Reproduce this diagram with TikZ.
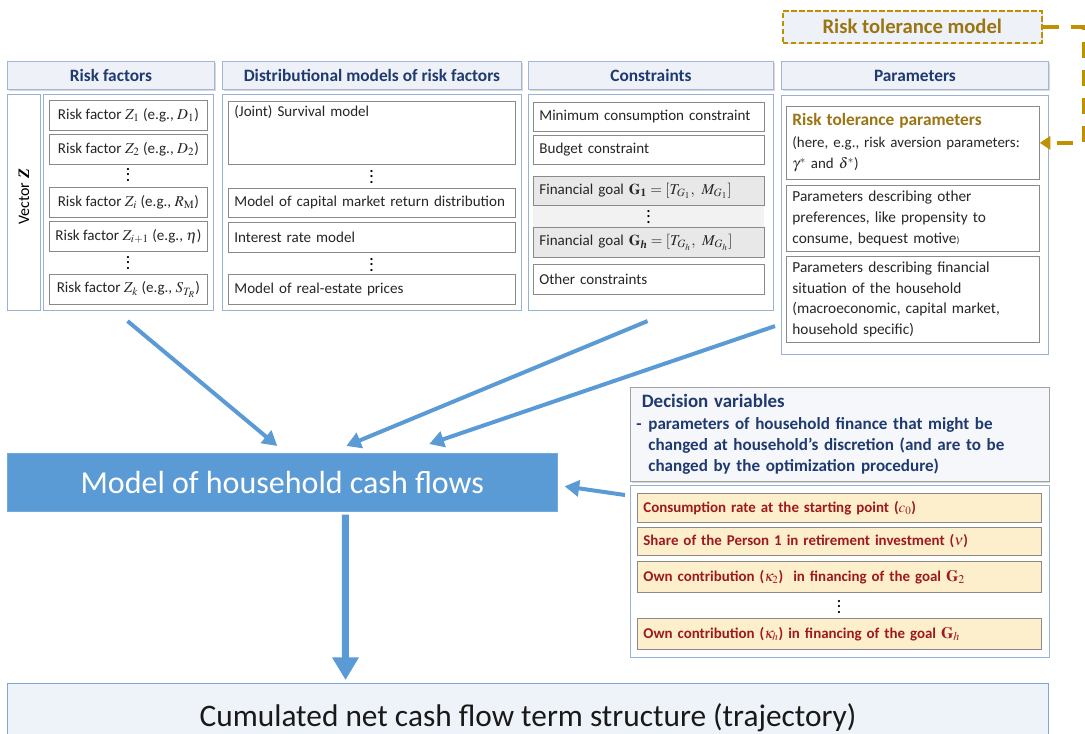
\documentclass[tikz,border=0pt]{standalone}
\usepackage{amsmath,amssymb}
\usepackage{mathptmx}
\usepackage[no-math]{fontspec}
\setmainfont{Carlito}
\newfontfamily\tnr{Liberation Serif}
\newcommand{\bi}[1]{{\tnr\bfseries\itshape #1}}
\newcommand{\vd}{\vbox{\baselineskip4pt\lineskiplimit0pt\hbox{.}\hbox{.}\hbox{.}}}
\usetikzlibrary{arrows.meta,shadows}

\definecolor{hdrfill}{HTML}{EEF2F8}
\definecolor{hdrline}{HTML}{A3B6D3}
\definecolor{grpline}{HTML}{95B3D7}
\definecolor{subline}{HTML}{8A8A8A}
\definecolor{navy}{HTML}{1F3A6E}
\definecolor{goldline}{HTML}{BF9000}
\definecolor{goldtext}{HTML}{9A7512}
\definecolor{dvfill}{HTML}{FEEFCC}
\definecolor{dvtext}{HTML}{9E1A1A}
\definecolor{cfblue}{HTML}{5B9BD5}
\definecolor{trajfill}{HTML}{EEF3FA}
\definecolor{trajline}{HTML}{7FA6D6}

\tikzset{
  hdr/.style={anchor=north west, draw=hdrline, fill=hdrfill, line width=0.7pt, text=navy,
    font=\bfseries\fontsize{13}{15}\selectfont, minimum height=21pt,
    drop shadow={shadow xshift=1pt, shadow yshift=-1.2pt, opacity=0.3}},
  grp/.style={anchor=north west, draw=grpline, fill=white, line width=0.8pt},
  sub/.style={anchor=north west, draw=subline, fill=white, line width=0.6pt, align=left,
    inner xsep=4.5pt, font=\fontsize{11.3}{15.5}\selectfont, text=black!85, minimum height=22.5pt},
  rfbox/.style={sub, align=center, inner xsep=1pt, minimum width=118.5pt, font=\fontsize{11.3}{13}\selectfont},
  dmbox/.style={sub, text width=206.25pt},
  cobox/.style={sub, text width=164.25pt},
  pabox/.style={sub, text width=180.75pt, font=\fontsize{11.5}{15.5}\selectfont},
  dvbox/.style={sub, fill=dvfill, text=dvtext, font=\bfseries\fontsize{11.2}{13}\selectfont, text width=294pt},
  vdot/.style={font=\bfseries\fontsize{11}{12}\selectfont, inner sep=0pt},
  flow/.style={draw=cfblue, line width=3pt, -{Triangle[length=11pt,width=12pt]}},
  bigflow/.style={draw=cfblue, line width=5.25pt, -{Triangle[length=17pt,width=19pt]}},
  goldflow/.style={draw=goldline, line width=3pt, dash pattern=on 12pt off 9pt, -{Triangle[length=8pt,width=10pt]}},
}

\begin{document}
\begin{tikzpicture}[x=0.75pt,y=0.75pt,yscale=-1,xscale=1]
\useasboundingbox (0,0) rectangle (1085,733);

% Risk tolerance model
\node[hdr, draw=goldline, line width=1.2pt, dash pattern=on 4pt off 2pt, text=goldtext,
  font=\bfseries\fontsize{15.5}{18}\selectfont, minimum width=194.25pt, minimum height=24pt] (rtm) at (782,10) {Risk tolerance model};

% Headers
\node[hdr, minimum width=155.25pt] (hRisk) at (7,61) {Risk factors};
\node[hdr, minimum width=224.25pt] (hDist) at (222,61) {Distributional models of risk factors};
\node[hdr, minimum width=183.75pt] (hCons) at (528,61) {Constraints};
\node[hdr, minimum width=200.25pt] (hPar) at (781,61) {Parameters};

% Risk factors
\node[grp, minimum width=24.75pt, minimum height=162pt] (bVec) at (7,94) {};
\node[grp, minimum width=127.5pt, minimum height=162pt] (bRisk) at (43,94) {};
\node[rotate=90, font=\fontsize{12}{14}\selectfont] (vecZ) at (24,197) {Vector \bi{Z}};
\node[rfbox] (rf1) at (49,100) {Risk factor $Z_1$ (e.g., $D_1$)};
\node[rfbox] (rf2) at (49,134) {Risk factor $Z_2$ (e.g., $D_2$)};
\node[vdot] (dR1) at (128,175) {\vd};
\node[rfbox] (rfi) at (49,187) {Risk factor $Z_i$ (e.g., $R_{\mathrm{M}}$)};
\node[rfbox] (rfj) at (49,221) {Risk factor $Z_{i+1}$ (e.g., $\eta$)};
\node[vdot] (dR2) at (128,263) {\vd};
\node[rfbox] (rfk) at (49,274) {Risk factor $Z_k$ (e.g., $S_{T_R}$)};

% Distributional models
\node[grp, minimum width=224.25pt, minimum height=162pt] (bDist) at (222,94) {};
\node[dmbox, text depth=32pt] (surv) at (228,101) {(Joint) Survival model};
\node[vdot] (dD1) at (371.5,177) {\vd};
\node[dmbox, minimum height=21.75pt] (capm) at (228,188) {Model of capital market return distribution};
\node[dmbox] (irm) at (228,222) {Interest rate model};
\node[vdot] (dD2) at (371.5,265) {\vd};
\node[dmbox] (reprice) at (228,274) {Model of real-estate prices};

% Constraints
\node[grp, minimum width=183.75pt, minimum height=162pt] (bCons) at (528,94) {};
\node[cobox, minimum height=21.75pt] (mincons) at (533,102) {Minimum consumption constraint};
\node[cobox, minimum height=21.75pt] (budget) at (533,135) {Budget constraint};
\node[anchor=north west, fill=black!5, minimum width=173.25pt, minimum height=60.75pt] (goalband) at (533,176) {};
\node[cobox, fill=black!9, minimum height=21.75pt] (goal1) at (533,176) {Financial goal $\mathbf{G}_{\mathbf{1}} = [T_{G_1},\ M_{G_1}]$};
\node[vdot] (dC) at (648.5,217) {\vd};
\node[cobox, fill=black!9] (goalh) at (533,227) {Financial goal $\mathbf{G}_{\text{\bi{h}}} = [T_{G_h},\ M_{G_h}]$};
\node[cobox] (ocons) at (533,264) {Other constraints};

% Parameters
\node[grp, minimum width=200.25pt, minimum height=194.25pt] (bPar) at (781,95) {};
\node[pabox, minimum height=54.75pt, font=\fontsize{11.2}{16}\selectfont] (rtp) at (786,106) {{\bfseries\color{goldtext}\fontsize{13}{16}\selectfont Risk tolerance parameters}\\(here, e.g., risk aversion parameters:\\$\gamma^{*}$ and $\delta^{*}$)};
\node[pabox, minimum height=49.5pt] (pother) at (786,185) {Parameters describing other\\preferences, like propensity to\\consume, bequest motive{\scriptsize)}};
\node[pabox, minimum height=64.5pt] (pfin) at (786,256) {Parameters describing financial\\situation of the household\\(macroeconomic, capital market,\\household specific)};

% Decision variables
\node[hdr, fill=hdrfill!60, draw=subline!80, align=left, text width=305pt, inner xsep=4.5pt,
  minimum height=70.5pt, font=\bfseries\fontsize{12.8}{16}\selectfont] (hDec) at (630,387)
  {\hspace*{4pt}{\fontsize{14.2}{16}\selectfont Decision variables}\\
   -\hspace{5pt}\parbox[t]{290pt}{parameters of household finance that might be\\changed at household’s discretion (and are to be\\changed by the optimization procedure)}};
\node[grp, minimum width=314.25pt, minimum height=129pt] (bDec) at (630,485) {};
\node[dvbox, minimum height=21.75pt] (dv1) at (637,493) {Consumption rate at the starting point ($c_0$)};
\node[dvbox, minimum height=21pt] (dv2) at (637,527) {Share of the Person 1 in retirement investment ($\nu$)};
\node[dvbox, minimum height=23.25pt] (dv3) at (637,561) {Own contribution ($\kappa_2$)\ \ in financing of the goal {\large$\mathbf{G}_2$}};
\node[vdot] (dV) at (839,607) {\vd};
\node[dvbox, minimum height=23.25pt] (dv4) at (637,618) {Own contribution ($\kappa_h$) in financing of the goal {\large$\mathbf{G}_h$}};

% Cash flow model and result
\node[anchor=north west, fill=cfblue, draw=cfblue!85!white, minimum width=412.5pt, minimum height=43.5pt,
  text=white, font=\fontsize{24}{28}\selectfont] (model) at (7,453) {Model of household cash flows};
\node[anchor=north west, fill=trajfill, draw=trajline, line width=0.8pt, minimum width=780.75pt, minimum height=51pt,
  text=black!90, font=\fontsize{23.5}{27}\selectfont] (traj) at (7,683) {Cumulated net cash flow term structure (trajectory)};

% Arrows
\draw[flow] ([shift={(-1,10)}]bRisk.south) -- ([shift={(-5,-7)}]model.north);
\draw[flow] ([shift={(-3.5,10)}]bCons.south) -- ([shift={(64,-7)}]model.north);
\draw[flow] ([shift={(-6,-29)}]bPar.south west) -- ([shift={(147,-9)}]model.north);
\draw[flow] ([shift={(-5,10)}]bDec.north west) -- ([shift={(7,4)}]model.east);
\draw[bigflow] ([shift={(63,3)}]model.south) -- ([shift={(-182.5,-3)}]traj.north);
\draw[goldflow] (rtm.east) -- ++(41,0) |- (rtp.east);

\end{tikzpicture}
\end{document}
